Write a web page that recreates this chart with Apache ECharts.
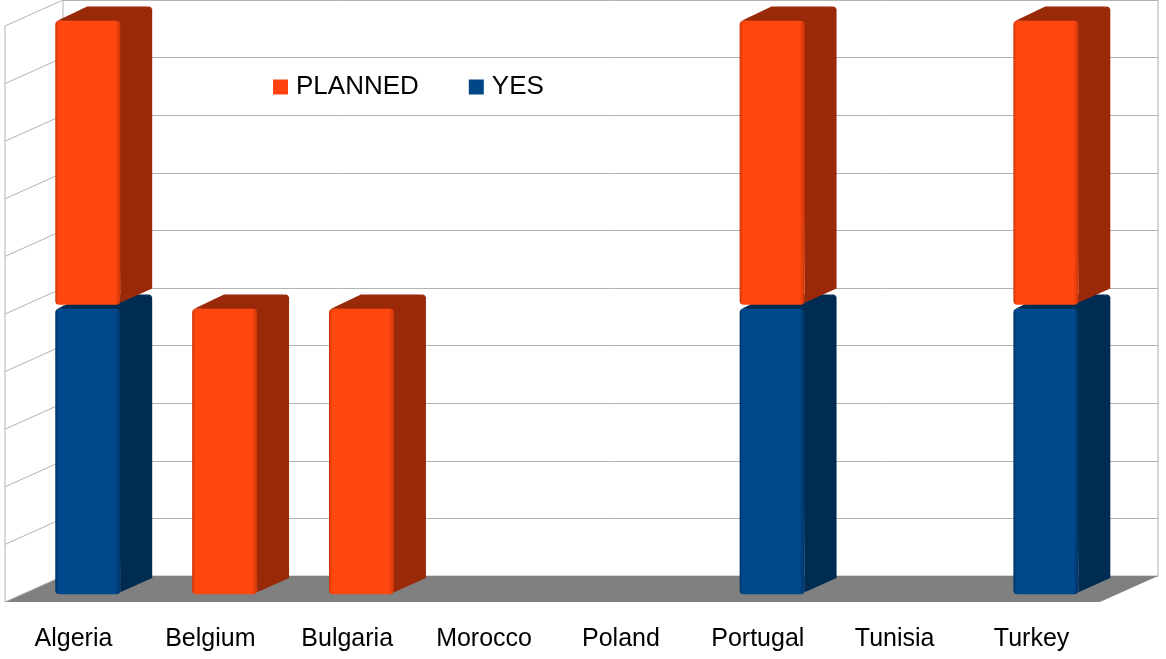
<!DOCTYPE html>
<html>
<head>
<meta charset="utf-8">
<script src="https://cdn.jsdelivr.net/npm/echarts@6/dist/echarts.min.js"></script>
<style>
html,body{margin:0;padding:0;background:#fff;}
#chart{width:1166px;height:659px;}
</style>
</head>
<body>
<div id="chart"></div>
<script>
// ---- data ----
const categories = ['Algeria', 'Belgium', 'Bulgaria', 'Morocco', 'Poland', 'Portugal', 'Tunisia', 'Turkey'];
const yesValues = [1, 0, 0, 0, 0, 1, 0, 1];
const plannedValues = [1, 1, 1, 0, 0, 1, 0, 1];
const wallTicks = [0, 0.2, 0.4, 0.6, 0.8, 1.0, 1.2, 1.4, 1.6, 1.8, 2.0];
const axisMax = 2;

// ---- pseudo 3D geometry (depth shift from front plane to back plane) ----
const DX = 58, DY = -26;
const TF = 0.3, TB = 0.85;      // bar front / back depth
const BAR_LEFT = -0.26, BAR_W = 0.475;
const TOP_INSET = 2.5, BASE_INSET = 1.5;

const chart = echarts.init(document.getElementById('chart'));

function barRenderer(front, frontEdge, dark) {
  return function (params, api) {
    const i = api.value(0), v0 = api.value(1), v1 = api.value(2);
    if (!(v1 > v0)) return null;
    const bw = api.size([1, 0])[0];
    const pb = api.coord([i, v0]);
    const pt = api.coord([i, v1]);
    const yb = pb[1] - (v0 > 0 ? BASE_INSET : 0);
    const yt = pt[1] + TOP_INSET;
    const xl = pb[0] + BAR_LEFT * bw;
    const xr = xl + BAR_W * bw;
    const fx = DX * TF, fy = DY * TF, bx = DX * TB, by = DY * TB;
    const grad = new echarts.graphic.LinearGradient(0, 0, 1, 0, [
      {offset: 0, color: frontEdge}, {offset: 0.05, color: front},
      {offset: 0.92, color: front}, {offset: 1, color: frontEdge}
    ]);
    return {
      type: 'group',
      children: [
        {type: 'polygon', shape: {points: [
          [xr + fx - 2, yt + fy], [xr + bx - 3, yt + by], [xr + bx - 1, yt + by + 1], [xr + bx, yt + by + 3],
          [xr + bx, yb + by - 2], [xr + fx, yb + fy - 2]
        ]}, style: {fill: dark}},
        {type: 'polygon', shape: {points: [
          [xl + fx + 2, yt + fy], [xl + bx, yt + by], [xr + bx - 3, yt + by], [xr + fx, yt + fy + 2]
        ]}, style: {fill: dark}},
        {type: 'rect', shape: {x: xl + fx, y: yt + fy, width: xr - xl, height: yb - yt, r: 4},
          style: {fill: grad}}
      ]
    };
  };
}

const yesData = categories.map((c, i) => [i, 0, yesValues[i]]);
const plannedData = categories.map((c, i) => [i, yesValues[i], yesValues[i] + plannedValues[i]]);

const option = {
  animation: false,
  backgroundColor: '#ffffff',
  textStyle: {fontFamily: 'Liberation Sans'},
  legend: {
    data: ['PLANNED', 'YES'],
    left: 268, top: 69,
    icon: 'rect', itemWidth: 15, itemHeight: 15, itemGap: 50,
    textStyle: {fontSize: 26, color: '#000', fontFamily: 'Liberation Sans', padding: [0, 0, 0, 3]}
  },
  grid: [
    {left: 5, right: 66, top: 26, bottom: 57, show: false},
    {left: 63, right: 8, top: 0, bottom: 83, show: true, borderColor: '#b3b3b3', borderWidth: 1, backgroundColor: 'transparent'}
  ],
  xAxis: [
    {type: 'category', gridIndex: 0, data: categories,
      axisLine: {show: false}, axisTick: {show: false}, splitLine: {show: false},
      axisLabel: {fontSize: 25, color: '#000', margin: 25, fontFamily: 'Liberation Sans'}},
    {type: 'category', gridIndex: 1, data: categories, show: false}
  ],
  yAxis: [
    {type: 'value', gridIndex: 0, min: 0, max: axisMax, show: false},
    {type: 'value', gridIndex: 1, min: 0, max: axisMax, interval: 0.2,
      axisLine: {show: false}, axisTick: {show: false}, axisLabel: {show: false},
      splitLine: {show: true, lineStyle: {color: '#b3b3b3', width: 1}}}
  ],
  series: [
    {
      name: 'floor', type: 'custom', xAxisIndex: 0, yAxisIndex: 0, z: 1, silent: true,
      data: [[0]],
      renderItem: function (params, api) {
        const bw = api.size([1, 0])[0];
        const p0 = api.coord([0, 0]);
        const p7 = api.coord([categories.length - 1, 0]);
        const ptop = api.coord([0, axisMax]);
        const xL = p0[0] - bw / 2, xR = p7[0] + bw / 2, y0 = p0[1];
        return {type: 'group', children: [
          {type: 'polygon', shape: {points: [[xL, y0], [xR, y0], [xR + DX, y0 + DY], [xL + DX, y0 + DY]]},
            style: {fill: '#808080'}},
          {type: 'line', shape: {x1: xL, y1: y0, x2: xL, y2: ptop[1]}, style: {stroke: '#b3b3b3', lineWidth: 1}}
        ]};
      }
    },
    {
      name: 'sidewall', type: 'custom', xAxisIndex: 0, yAxisIndex: 0, z: 2, silent: true,
      data: wallTicks.map(v => [v]),
      renderItem: function (params, api) {
        const v = api.value(0);
        const bw = api.size([1, 0])[0];
        const p = api.coord([0, v]);
        const x = p[0] - bw / 2;
        return {type: 'line', shape: {x1: x, y1: p[1], x2: x + DX, y2: p[1] + DY},
          style: {stroke: '#b3b3b3', lineWidth: 1}};
      }
    },
    {
      name: 'YES', type: 'custom', xAxisIndex: 0, yAxisIndex: 0, z: 3,
      itemStyle: {color: '#004586'},
      data: yesData,
      renderItem: barRenderer('#00498c', '#003466', '#002b52')
    },
    {
      name: 'PLANNED', type: 'custom', xAxisIndex: 0, yAxisIndex: 0, z: 4,
      itemStyle: {color: '#ff420e'},
      data: plannedData,
      renderItem: barRenderer('#ff470f', '#cc3609', '#9a2909')
    }
  ]
};
chart.setOption(option);
</script>
</body>
</html>
